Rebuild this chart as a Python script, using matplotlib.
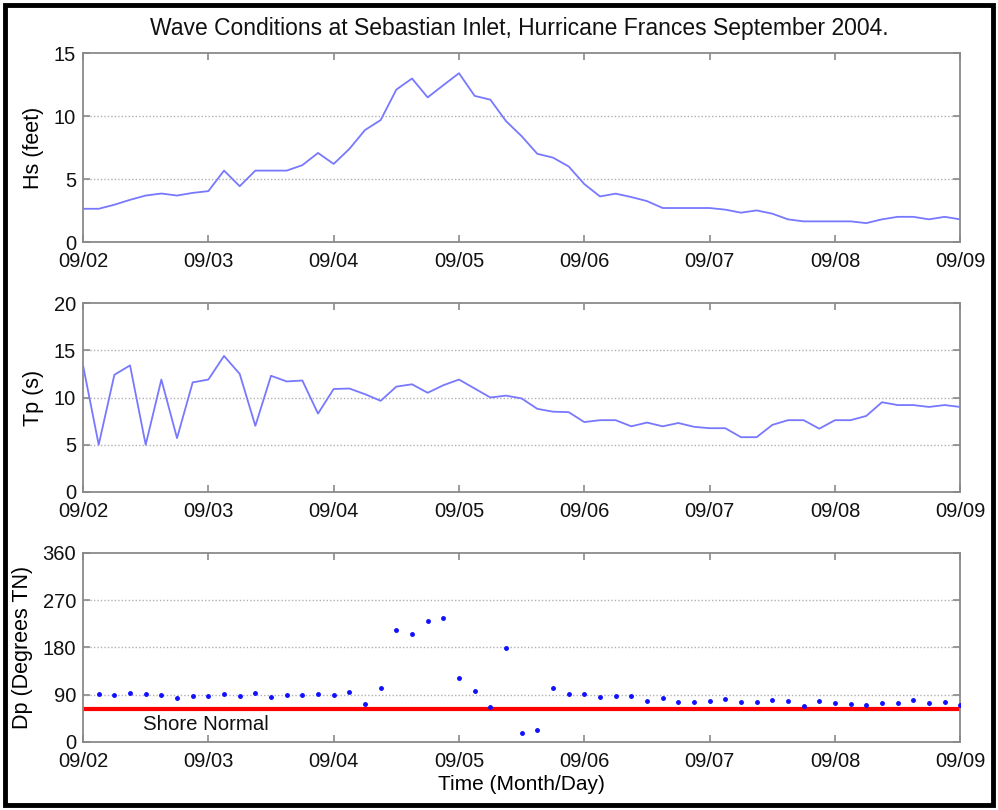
import numpy as np
import matplotlib
matplotlib.use("Agg")
import matplotlib.pyplot as plt
from matplotlib.patches import Rectangle

plt.rcParams['font.family'] = ['Liberation Sans', 'DejaVu Sans']

# time in days since 09/02 00:00, 3-hourly samples
days = np.arange(0, 57) * 3 / 24.0

hs_feet = [2.64, 2.64, 2.96, 3.35, 3.69, 3.85, 3.69, 3.9,
           4.04, 5.67, 4.43, 5.67, 5.67, 5.67, 6.1, 7.07,
           6.2, 7.39, 8.89, 9.68, 12.1, 12.98, 11.48, 12.45,
           13.4, 11.6, 11.3, 9.6, 8.4, 7.0, 6.7, 6.0,
           4.6, 3.62, 3.84, 3.57, 3.25, 2.7, 2.7, 2.7,
           2.7, 2.57, 2.33, 2.51, 2.25, 1.8, 1.64, 1.64,
           1.64, 1.64, 1.5, 1.8, 2.0, 2.0, 1.8, 2.0,
           1.8]

tp_s = [13.4, 5.0, 12.4, 13.4, 5.0, 11.9, 5.7, 11.6,
        11.9, 14.4, 12.5, 7.0, 12.3, 11.7, 11.8, 8.3,
        10.9, 10.95, 10.35, 9.65, 11.15, 11.4, 10.5, 11.3,
        11.9, 10.95, 10.0, 10.2, 9.9, 8.8, 8.5, 8.45,
        7.4, 7.6, 7.6, 6.95, 7.35, 6.95, 7.3, 6.9,
        6.75, 6.75, 5.8, 5.8, 7.1, 7.6, 7.6, 6.7,
        7.6, 7.6, 8.05, 9.5, 9.2, 9.2, 9.0, 9.2,
        9.0]

# Dp starts at 09/02 03:00
dp_deg = [91, 89, 94, 91, 89, 83, 88,
          88, 91, 88, 93, 86, 89, 89, 91,
          89, 96, 72, 103, 213, 206, 230, 237,
          121, 98, 67, 179, 17, 22, 103, 91,
          91, 86, 88, 88, 78, 83, 76, 76,
          78, 81, 76, 76, 79, 78, 69, 78,
          74, 73, 70, 74, 74, 79, 74, 76,
          70]

shore_normal = 62

tick_days = [0, 1, 2, 3, 4, 5, 6, 7]
tick_labels = ['09/02', '09/03', '09/04', '09/05', '09/06', '09/07', '09/08', '09/09']

fig = plt.figure(figsize=(9.98, 8.10), dpi=100)

L, W, H = 0.0832, 0.879, 0.2333
bottoms = [0.7012, 0.3926, 0.0840]
axes = [fig.add_axes([L, b, W, H]) for b in bottoms]

line_color = '#7878ff'
spine_color = '#8a8a8a'

def style(ax, yticks, ylabel, labx):
    ax.set_xlim(0, 7)
    ax.set_xticks(tick_days)
    ax.set_xticklabels(tick_labels)
    ax.set_ylim(yticks[0], yticks[-1])
    ax.set_yticks(yticks)
    ax.tick_params(direction='in', length=5, width=1.2, color=spine_color,
                   top=True, right=True, labelsize=14.5, pad=5, labelcolor='#111111')
    ax.tick_params(axis='x', pad=7)
    for s in ax.spines.values():
        s.set_color(spine_color)
        s.set_linewidth(1.3)
    for y in yticks[1:-1]:
        ax.axhline(y, color='#b0b0b0', lw=1.0, ls=(0, (1, 1.5)), zorder=0)
    ax.set_ylabel(ylabel, fontsize=15.5)
    ax.yaxis.set_label_coords(labx, 0.5)

axes[0].plot(days, hs_feet, color=line_color, lw=1.3)
style(axes[0], [0, 5, 10, 15], 'Hs (feet)', -0.045)

axes[1].plot(days, tp_s, color=line_color, lw=1.3)
style(axes[1], [0, 5, 10, 15, 20], 'Tp (s)', -0.045)

axes[2].axhline(shore_normal, color='#ff0000', lw=3, zorder=2)
axes[2].plot(days[1:], dp_deg, ls='none', marker='.', ms=5, color='#1010ff', zorder=3)
style(axes[2], [0, 90, 180, 270, 360], 'Dp (Degrees TN)', -0.057)
axes[2].text(0.48, 34, 'Shore Normal', fontsize=14.7, va='center', ha='left', color='#111111')
axes[2].set_xlabel('Time (Month/Day)', fontsize=15, labelpad=3)

fig.text(0.52, 0.965, 'Wave Conditions at Sebastian Inlet, Hurricane Frances September 2004.',
         ha='center', va='center', fontsize=16.5, color='#111111')

fig.add_artist(Rectangle((0.005, 0.006), 0.99, 0.988, transform=fig.transFigure,
                         fill=False, edgecolor='black', lw=3.5))

fig.savefig('out.png', dpi=100)
